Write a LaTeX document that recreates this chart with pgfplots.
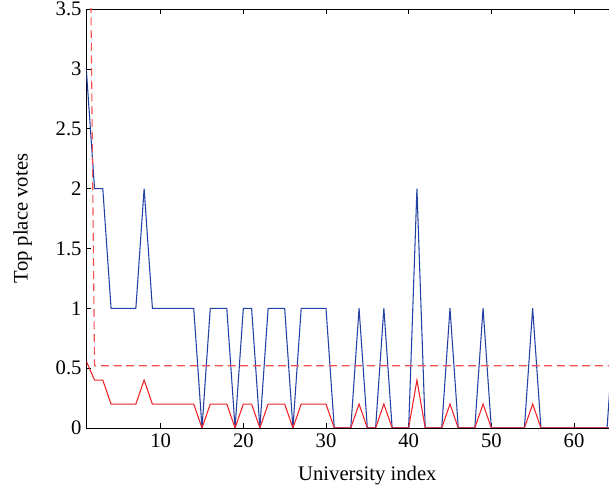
\documentclass[border=0pt]{standalone}
\usepackage{pgfplots}
\pgfplotsset{compat=1.18}
\usepackage{fontspec}
\setmainfont{Liberation Serif}
\definecolor{mblue}{RGB}{35,65,165}
\definecolor{mred}{RGB}{240,35,40}
\definecolor{mdash}{RGB}{245,80,80}
\begin{document}
\begin{tikzpicture}[x=1pt,y=1pt]
\begin{axis}[
  scale only axis,
  width=421.6pt, height=314.25pt,
  xmin=1, xmax=69, ymin=0, ymax=3.5,
  xtick={10,20,...,60},
  ytick={0,0.5,1,1.5,2,2.5,3,3.5},
  yticklabels={0,0.5,1,1.5,2,2.5,3,3.5},
  tick align=inside,
  major tick length=3.75pt,
  tick style={black, line width=0.5pt},
  axis line style={black, line width=0.6pt},
  /pgf/number format/assume math mode=true,
  ticklabel style={font=\fontsize{15.5}{17}\selectfont},
  label style={font=\fontsize{15.5}{17}\selectfont},
  xlabel={University index},
  ylabel={Top place votes},
  xticklabel style={yshift=-1pt},
  xlabel style={yshift=-7pt},
  ylabel style={yshift=11pt},
  clip=true,
]
\addplot[mblue, line width=0.8pt] coordinates {
(1,3)(2,2)(3,2)(4,1)(5,1)(6,1)(7,1)(8,2)(9,1)(10,1)(11,1)(12,1)(13,1)(14,1)
(15,0)(16,1)(17,1)(18,1)(19,0)(20,1)(21,1)(22,0)(23,1)(24,1)(25,1)(26,0)
(27,1)(28,1)(29,1)(30,1)(31,0)(32,0)(33,0)(34,1)(35,0)(36,0)(37,1)(38,0)
(39,0)(40,0)(41,2)(42,0)(43,0)(44,0)(45,1)(46,0)(47,0)(48,0)(49,1)(50,0)
(51,0)(52,0)(53,0)(54,0)(55,1)(56,0)(57,0)(58,0)(59,0)(60,0)(61,0)(62,0)
(63,0)(64,0)(65,1)
};
\addplot[mred, line width=0.8pt] coordinates {
(1,0.56)(2,0.4)(3,0.4)(4,0.2)(5,0.2)(6,0.2)(7,0.2)(8,0.4)(9,0.2)(10,0.2)(11,0.2)(12,0.2)(13,0.2)(14,0.2)
(15,0)(16,0.2)(17,0.2)(18,0.2)(19,0)(20,0.2)(21,0.2)(22,0)(23,0.2)(24,0.2)(25,0.2)(26,0)
(27,0.2)(28,0.2)(29,0.2)(30,0.2)(31,0)(32,0)(33,0)(34,0.2)(35,0)(36,0)(37,0.2)(38,0)
(39,0)(40,0)(41,0.4)(42,0)(43,0)(44,0)(45,0.2)(46,0)(47,0)(48,0)(49,0.2)(50,0)
(51,0)(52,0)(53,0)(54,0)(55,0.2)(56,0)(57,0)(58,0)(59,0)(60,0)(61,0)(62,0)
(63,0)(64,0)(65,0)
};
\addplot[mdash, line width=0.8pt, dash pattern=on 6pt off 3.5pt] coordinates {
(1,7.45)(2,0.52)(10,0.52)(20,0.52)(30,0.52)(40,0.52)(50,0.52)(60,0.52)(65,0.52)
};
\end{axis}
\pgfresetboundingbox
\path (-64.7pt,-47.25pt) rectangle (392.05pt,321pt);
\end{tikzpicture}
\end{document}
